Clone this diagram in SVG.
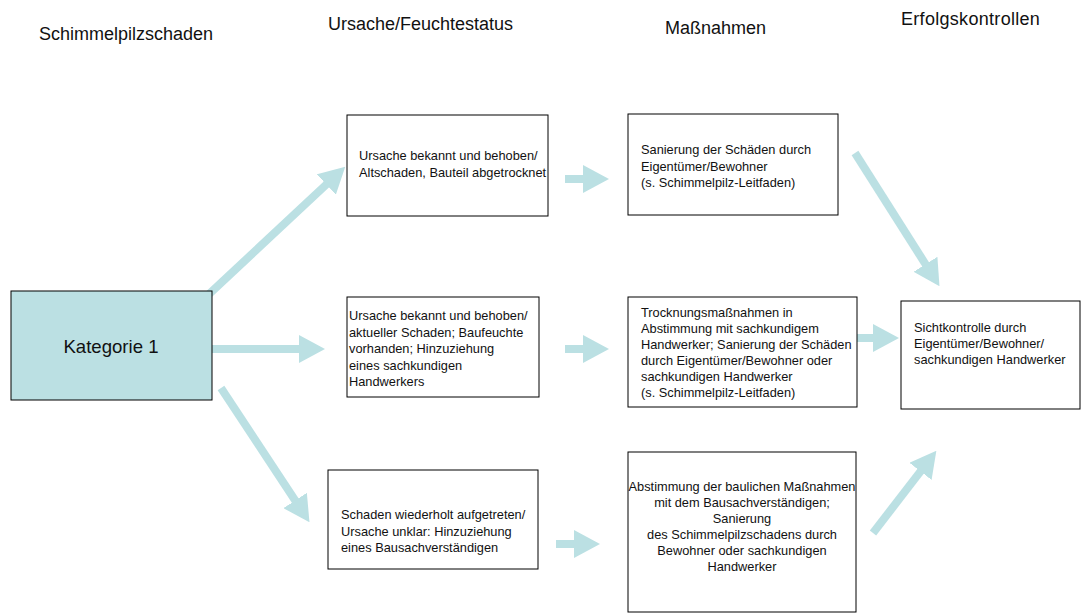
<svg xmlns="http://www.w3.org/2000/svg" width="1083" height="614" viewBox="0 0 1083 614">
<style>
.hdr{font-family:"Liberation Sans",Arial,sans-serif;font-size:18px;fill:#111}
.box{fill:#fff;stroke:#000;stroke-width:1}
.kat{fill:#BBE0E3;stroke:#000;stroke-width:1}
.t{font-family:"Liberation Sans",Arial,sans-serif;font-size:12.8px;fill:#111}
.tc{font-family:"Liberation Sans",Arial,sans-serif;font-size:12.8px;fill:#111;text-anchor:middle}
.arr{stroke:#BBE0E3;stroke-width:8;fill:none;marker-end:url(#ah)}
</style>
<defs>
<marker id="ah" viewBox="0 0 26 28" refX="1" refY="14" markerWidth="26" markerHeight="28" markerUnits="userSpaceOnUse" orient="auto">
<path d="M0,0 L26,14 L0,28 Z" fill="#BBE0E3"/>
</marker>
</defs>
<rect width="1083" height="614" fill="#fff"/>
<g id="headers">
<text class="hdr" x="39" y="40">Schimmelpilzschaden</text>
<text class="hdr" x="328" y="30">Ursache/Feuchtestatus</text>
<text class="hdr" x="665" y="34">Maßnahmen</text>
<text class="hdr" x="901" y="25" letter-spacing="0.3">Erfolgskontrollen</text>
</g>
<g id="connectors">
<line class="arr" x1="207" y1="296" x2="327" y2="183.8"/>
<line class="arr" x1="212" y1="349" x2="300" y2="349"/>
<line class="arr" x1="221" y1="388" x2="295.7" y2="501.3"/>
<line class="arr" x1="565" y1="179" x2="584" y2="179"/>
<line class="arr" x1="565" y1="349" x2="584" y2="349"/>
<line class="arr" x1="556" y1="544" x2="575" y2="544"/>
<line class="arr" x1="857" y1="338" x2="874" y2="338"/>
<line class="arr" x1="855" y1="153" x2="926.1" y2="265.1"/>
<line class="arr" x1="873" y1="533" x2="921.1" y2="470.6"/>
</g>
<g id="kategorie1">
<rect class="kat" x="11" y="291" width="201" height="109"/>
<text x="111" y="353" font-family="Liberation Sans, Arial, sans-serif" font-size="18.6" fill="#111" text-anchor="middle">Kategorie 1</text>
</g>
<g id="ursache1">
<rect class="box" x="347" y="115" width="201" height="101"/>
<text class="t" x="359" y="160">Ursache bekannt und behoben/</text>
<text class="t" x="359" y="177">Altschaden, Bauteil abgetrocknet</text>
</g>
<g id="ursache2">
<rect class="box" x="347" y="297" width="192" height="100"/>
<text class="t" x="349" y="320">Ursache bekannt und behoben/</text>
<text class="t" x="349" y="336.5">aktueller Schaden; Baufeuchte</text>
<text class="t" x="349" y="353">vorhanden; Hinzuziehung</text>
<text class="t" x="349" y="369.5">eines sachkundigen</text>
<text class="t" x="349" y="386">Handwerkers</text>
</g>
<g id="ursache3">
<rect class="box" x="328" y="470" width="210" height="99"/>
<text class="t" x="341" y="519">Schaden wiederholt aufgetreten/</text>
<text class="t" x="341" y="535.5">Ursache unklar: Hinzuziehung</text>
<text class="t" x="341" y="552">eines Bausachverständigen</text>
</g>
<g id="massnahme1">
<rect class="box" x="628" y="114" width="210" height="101"/>
<text class="t" x="641" y="154">Sanierung der Schäden durch</text>
<text class="t" x="641" y="170.5">Eigentümer/Bewohner</text>
<text class="t" x="641" y="187">(s. Schimmelpilz-Leitfaden)</text>
</g>
<g id="massnahme2">
<rect class="box" x="628" y="297" width="229" height="110"/>
<text class="t" x="641" y="317">Trocknungsmaßnahmen in</text>
<text class="t" x="641" y="333">Abstimmung mit sachkundigem</text>
<text class="t" x="641" y="349">Handwerker; Sanierung der Schäden</text>
<text class="t" x="641" y="365">durch Eigentümer/Bewohner oder</text>
<text class="t" x="641" y="381">sachkundigen Handwerker</text>
<text class="t" x="641" y="397">(s. Schimmelpilz-Leitfaden)</text>
</g>
<g id="massnahme3">
<rect class="box" x="628" y="452" width="228" height="160"/>
<text class="tc" x="742" y="491">Abstimmung der baulichen Maßnahmen</text>
<text class="tc" x="742" y="507">mit dem Bausachverständigen;</text>
<text class="tc" x="742" y="523">Sanierung</text>
<text class="tc" x="742" y="539">des Schimmelpilzschadens durch</text>
<text class="tc" x="742" y="555"> Bewohner oder sachkundigen</text>
<text class="tc" x="742" y="571">Handwerker</text>
</g>
<g id="erfolgskontrolle">
<rect class="box" x="901" y="301" width="179" height="108"/>
<text class="t" x="914" y="332">Sichtkontrolle durch</text>
<text class="t" x="914" y="348">Eigentümer/Bewohner/</text>
<text class="t" x="914" y="364">sachkundigen Handwerker</text>
</g>
</svg>
